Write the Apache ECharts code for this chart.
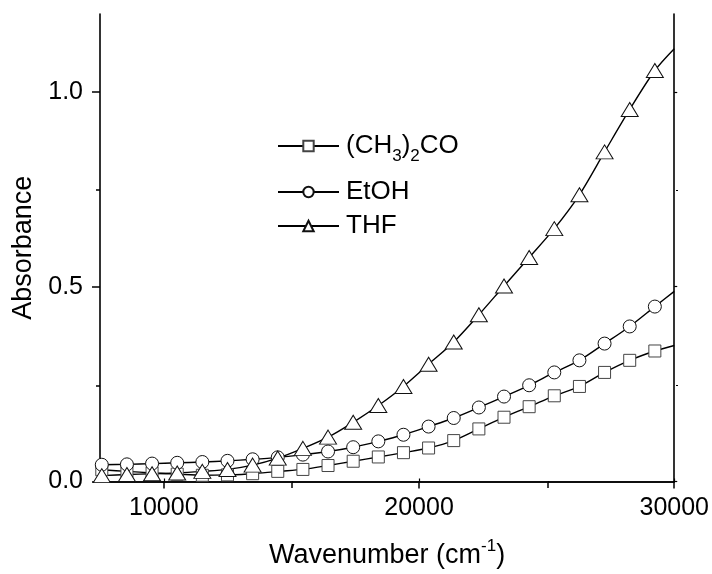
<!DOCTYPE html>
<html><head><meta charset="utf-8">
<script src="https://cdn.jsdelivr.net/npm/echarts@6/dist/echarts.min.js"></script>
<style>html,body{margin:0;padding:0;background:#fff}#c{width:712px;height:574px}</style>
</head><body><div id="c"></div>
<script>
// Wavenumber positions of the plotted points (cm^-1); last entry is the curve end at the frame
const wavenumbers = [7570, 8555, 9540, 10525, 11510, 12495, 13480, 14465, 15450, 16435, 17420, 18405,
  19390, 20375, 21360, 22345, 23330, 24315, 25300, 26285, 27270, 28255, 29240, 30000];
const acetone = [0.030, 0.026, 0.022, 0.019, 0.016, 0.017, 0.020, 0.026, 0.031, 0.041, 0.052, 0.063,
  0.074, 0.086, 0.105, 0.135, 0.165, 0.192, 0.220, 0.244, 0.280, 0.311, 0.335, 0.349];
const ethanol = [0.043, 0.044, 0.046, 0.048, 0.050, 0.053, 0.057, 0.062, 0.069, 0.077, 0.088, 0.103,
  0.120, 0.141, 0.163, 0.190, 0.218, 0.247, 0.280, 0.311, 0.354, 0.398, 0.449, 0.488];
const thf = [0.015, 0.018, 0.020, 0.022, 0.026, 0.031, 0.042, 0.060, 0.085, 0.114, 0.152, 0.195,
  0.244, 0.301, 0.358, 0.428, 0.502, 0.575, 0.649, 0.736, 0.846, 0.955, 1.055, 1.111];
const seriesNames = ['(CH3)2CO', 'EtOH', 'THF'];
const xMajorTicks = [10000, 20000, 30000];
const xMinorTicks = [15000, 25000];
const yMajorTicks = [0, 0.5, 1.0];
const yMinorTicks = [0.25, 0.75];

const FONT = 'Liberation Sans, Arial, sans-serif';
const chart = echarts.init(document.getElementById('c'), null, {renderer: 'canvas'});

function toData(vals) {
  return wavenumbers.map((w, i) => i === wavenumbers.length - 1
    ? {value: [w, vals[i]], symbol: 'none'} : [w, vals[i]]);
}
const axisLine = {show: true, lineStyle: {color: '#000', width: 1.6}};
const gridRect = {left: 100, right: 36, top: 14, bottom: 91};

function mkSeries(name, vals, symbol, size, stroke) {
  return {
    name, type: 'line', xAxisIndex: 0, yAxisIndex: 0, data: toData(vals),
    smooth: 0.3, symbol, symbolSize: size, showAllSymbol: true,
    lineStyle: {color: '#000', width: 1.4},
    itemStyle: {color: '#fff', borderColor: stroke, borderWidth: 1},
    emphasis: {disabled: true}, z: 2
  };
}
function mkLegend(name, top) {
  return {
    data: [name], left: 272, top, orient: 'vertical', itemWidth: 61, itemHeight: 13, itemGap: 0,
    textStyle: {fontFamily: FONT, fontSize: 26, color: '#000', padding: [0, 0, 0, 2],
      rich: {sub: {fontFamily: FONT, fontSize: 17, color: '#000', padding: [20, 0, 0, 0]},
             t: {fontFamily: FONT, fontSize: 26, color: '#000'}}},
    formatter: n => n === '(CH3)2CO' ? '{t|(CH}{sub|3}{t|)}{sub|2}{t|CO}' : n,
    selectedMode: false
  };
}

const option = {
  animation: false,
  backgroundColor: '#fff',
  grid: [Object.assign({}, gridRect), Object.assign({}, gridRect)],
  legend: [mkLegend(seriesNames[0], 128), mkLegend(seriesNames[1], 174), mkLegend(seriesNames[2], 208)],
  xAxis: [
    {type: 'value', gridIndex: 0, position: 'bottom', min: 7500, max: 30000,
     name: 'Wavenumber (cm{sup|-1})', nameLocation: 'middle', nameGap: 56,
     nameTextStyle: {fontFamily: FONT, fontSize: 27, color: '#000',
       rich: {sup: {fontFamily: FONT, fontSize: 17, color: '#000', padding: [0, 0, 19, 0]}}},
     axisLine, splitLine: {show: false},
     axisTick: {show: true, length: 7, customValues: xMajorTicks, lineStyle: {color: '#000', width: 1.5}},
     axisLabel: {customValues: xMajorTicks, fontFamily: FONT, fontSize: 25, color: '#000', margin: 14,
       formatter: v => String(v)}},
    {type: 'value', gridIndex: 0, position: 'top', min: 7500, max: 30000,
     axisLine, splitLine: {show: false},
     axisTick: {show: true, length: 3, customValues: xMajorTicks, lineStyle: {color: '#000', width: 1.2}},
     axisLabel: {show: false}},
    {type: 'value', gridIndex: 1, position: 'bottom', min: 7500, max: 30000,
     axisLine: {show: false}, splitLine: {show: false},
     axisTick: {show: true, length: 5, customValues: xMinorTicks, lineStyle: {color: '#000', width: 1.5}},
     axisLabel: {show: false}},
    {type: 'value', gridIndex: 1, position: 'top', min: 7500, max: 30000,
     axisLine: {show: false}, splitLine: {show: false},
     axisTick: {show: true, length: 2, customValues: xMinorTicks, lineStyle: {color: '#000', width: 1.2}},
     axisLabel: {show: false}}
  ],
  yAxis: [
    {type: 'value', gridIndex: 0, position: 'left', min: 0, max: 1.2,
     name: 'Absorbance', nameLocation: 'middle', nameGap: 63, nameRotate: 90,
     nameTextStyle: {fontFamily: FONT, fontSize: 27, color: '#000'},
     axisLine, splitLine: {show: false},
     axisTick: {show: true, length: 8, customValues: yMajorTicks, lineStyle: {color: '#000', width: 1.5}},
     axisLabel: {customValues: yMajorTicks, fontFamily: FONT, fontSize: 25, color: '#000', margin: 17,
       formatter: v => v.toFixed(1)}},
    {type: 'value', gridIndex: 0, position: 'right', min: 0, max: 1.2,
     axisLine, splitLine: {show: false},
     axisTick: {show: true, length: 3, customValues: yMajorTicks, lineStyle: {color: '#000', width: 1.2}},
     axisLabel: {show: false}},
    {type: 'value', gridIndex: 1, position: 'left', min: 0, max: 1.2,
     axisLine: {show: false}, splitLine: {show: false},
     axisTick: {show: true, length: 4, customValues: yMinorTicks, lineStyle: {color: '#000', width: 1.5}},
     axisLabel: {show: false}},
    {type: 'value', gridIndex: 1, position: 'right', min: 0, max: 1.2,
     axisLine: {show: false}, splitLine: {show: false},
     axisTick: {show: true, length: 2, customValues: yMinorTicks, lineStyle: {color: '#000', width: 1.2}},
     axisLabel: {show: false}}
  ],
  series: [
    mkSeries(seriesNames[0], acetone, 'rect', 12, '#444'),
    mkSeries(seriesNames[1], ethanol, 'circle', 13, '#111'),
    mkSeries(seriesNames[2], thf, 'triangle', [17, 14], '#111')
  ]
};
chart.setOption(option);
</script>
</body></html>
